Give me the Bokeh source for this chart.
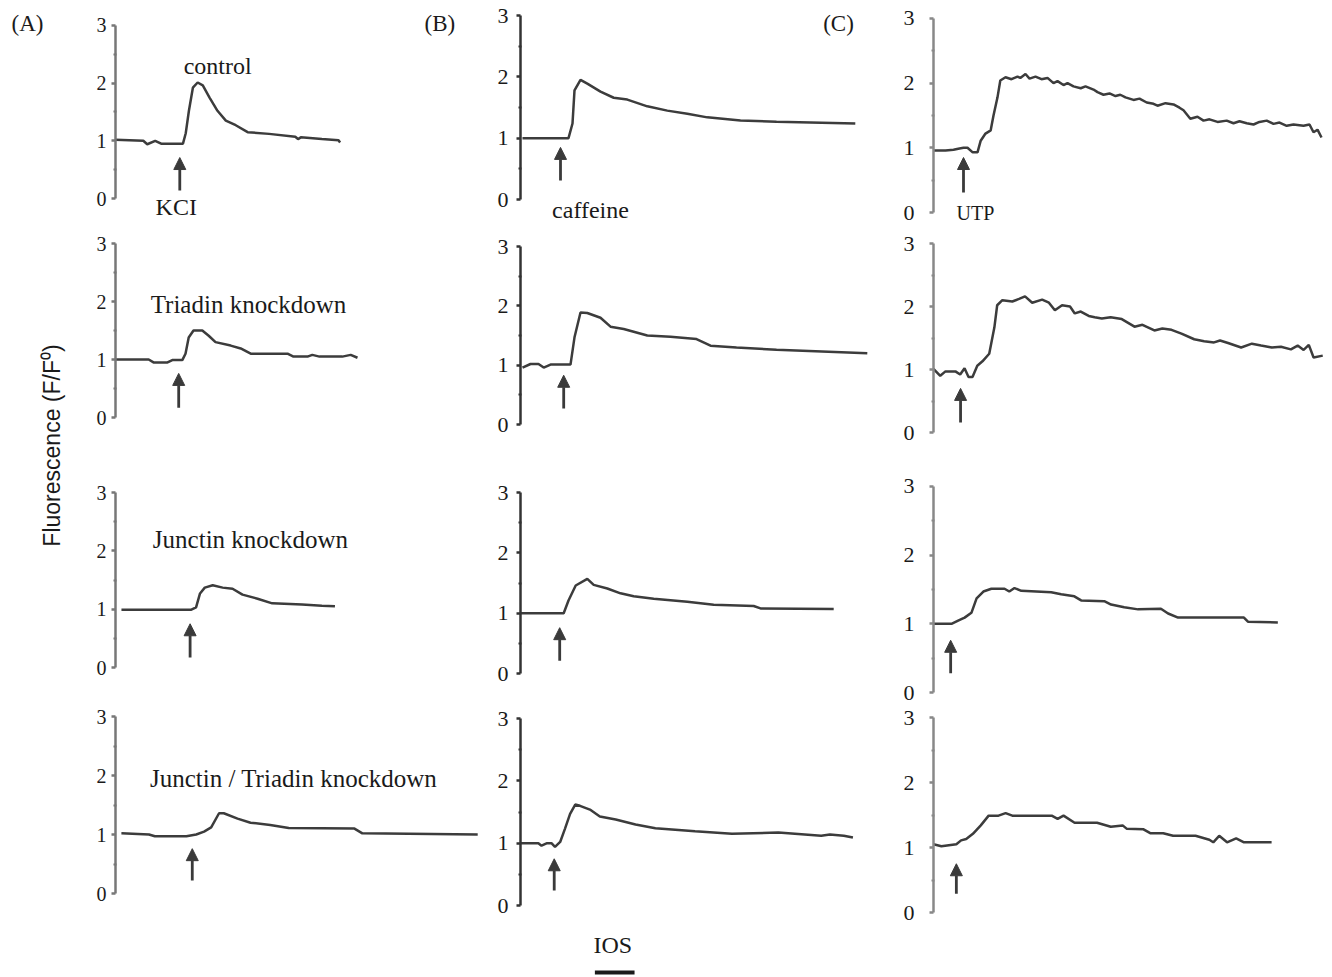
from bokeh.plotting import figure
from bokeh.layouts import row, column
from bokeh.models import Range1d, FixedTicker, Label, Arrow, NormalHead
from bokeh.embed import file_html
from bokeh.resources import INLINE
import math

# ---------------- data: (time s, F/F0) ----------------
a1 = [(0, 1.02), (7, 1.0), (8, 0.94), (10, 1.0), (11.5, 0.95), (17, 0.95), (17.7, 1.13), (18.5, 1.52),
      (19.5, 1.92), (20.7, 2.01), (22, 1.96), (23.7, 1.75), (25.7, 1.52), (27.8, 1.35), (30.3, 1.27),
      (33.3, 1.15), (38.7, 1.12), (45.3, 1.07), (46, 1.03), (46.7, 1.06), (52, 1.03), (56.2, 1.01), (56.6, 0.97)]
a2 = [(0, 1.0), (8.3, 1.0), (9.5, 0.95), (13, 0.95), (14.2, 0.99), (16.7, 0.99), (17.5, 1.10), (18.3, 1.38),
      (19.5, 1.50), (21.7, 1.50), (23.3, 1.41), (25, 1.30), (28.8, 1.24), (31.3, 1.19), (33.8, 1.10),
      (43, 1.10), (44.5, 1.05), (48, 1.05), (49.2, 1.08), (51, 1.05), (56.7, 1.05), (58.8, 1.08), (60.5, 1.03)]
a3 = [(1.5, 0.99), (19, 0.99), (20.3, 1.03), (21.3, 1.27), (22.5, 1.37), (24.5, 1.41), (27, 1.37),
      (29.5, 1.35), (32, 1.25), (35.8, 1.18), (39.5, 1.10), (47, 1.08), (52, 1.06), (55.3, 1.05)]
a4 = [(1.5, 1.02), (8.5, 1.0), (10, 0.97), (18, 0.97), (20.5, 1.0), (22.5, 1.05), (24.3, 1.12), (26.3, 1.36),
      (27.5, 1.36), (31, 1.27), (34.3, 1.20), (39.3, 1.16), (44, 1.11), (60.7, 1.10), (62.7, 1.02), (92, 1.0)]

b1 = [(0.5, 1.0), (12, 1.0), (13, 1.24), (13.5, 1.78), (15, 1.95), (16.7, 1.89), (20, 1.76), (23.3, 1.66),
      (26.7, 1.63), (31.7, 1.52), (36.7, 1.45), (41.7, 1.40), (46.7, 1.34), (55, 1.29), (64, 1.27), (83.7, 1.24)]
b2 = [(0.5, 0.96), (2.5, 1.02), (4.5, 1.02), (5.8, 0.96), (7.5, 1.01), (12.5, 1.01), (13.5, 1.47), (15, 1.89),
      (16.7, 1.88), (20, 1.80), (22.5, 1.65), (25.8, 1.61), (31.7, 1.50), (37.5, 1.48), (44, 1.44),
      (47.5, 1.33), (54, 1.30), (64, 1.26), (86.7, 1.20)]
b3 = [(0, 1.0), (10.8, 1.0), (12, 1.21), (13.8, 1.46), (16.7, 1.57), (18.3, 1.47), (21.7, 1.41), (25, 1.33),
      (28.3, 1.28), (33.3, 1.24), (41.7, 1.19), (48.3, 1.14), (58.3, 1.12), (60, 1.08), (78.3, 1.07)]
b4 = [(0, 1.0), (4.5, 1.0), (5.3, 0.96), (6.7, 1.0), (7.8, 1.0), (8.7, 0.94), (10, 1.02), (11.2, 1.23),
      (12.5, 1.47), (13.8, 1.62), (15, 1.60), (17.5, 1.54), (20, 1.43), (24, 1.38), (29, 1.30), (34, 1.24),
      (44, 1.19), (53.3, 1.15), (65, 1.17), (75.8, 1.12), (78, 1.14), (81.5, 1.12), (83.8, 1.09)]

c1 = [(0, 0.96), (3, 0.96), (5, 0.97), (6.5, 0.99), (7.5, 1.0), (8.5, 1.0), (9.8, 0.93), (11, 0.93),
      (11.8, 1.11), (13, 1.22), (14.3, 1.27), (15, 1.50), (16, 1.78), (16.7, 2.04), (18, 2.09), (19.5, 2.06),
      (21, 2.10), (21.7, 2.08), (23, 2.14), (24, 2.07), (25.5, 2.10), (27, 2.06), (28.5, 2.08), (30, 2.00),
      (31, 2.03), (32.5, 1.97), (33.5, 2.00), (35, 1.95), (36.8, 1.92), (38, 1.95), (40, 1.90), (41, 1.86),
      (42.5, 1.82), (44, 1.84), (45.5, 1.80), (46.7, 1.82), (48, 1.78), (50, 1.74), (51.5, 1.76), (53.3, 1.70),
      (55, 1.68), (56, 1.65), (58, 1.69), (60, 1.67), (61.5, 1.62), (62.5, 1.58), (64.2, 1.45), (66, 1.48),
      (67.5, 1.42), (69, 1.44), (71, 1.40), (73.3, 1.42), (75, 1.38), (76.5, 1.41), (78.3, 1.38), (80, 1.36),
      (81.5, 1.40), (83.3, 1.42), (85, 1.37), (86.5, 1.39), (88.3, 1.34), (90, 1.36), (92.5, 1.34),
      (94, 1.36), (95, 1.24), (96, 1.28), (97, 1.16)]
c2 = [(0, 1.01), (1.7, 0.90), (3, 0.97), (5.5, 0.97), (6.7, 0.92), (7.8, 1.02), (8.8, 0.88), (9.8, 0.88),
      (11, 1.06), (12.3, 1.13), (14, 1.25), (15.3, 1.67), (16, 2.02), (17.3, 2.10), (19.8, 2.08), (21.5, 2.12),
      (23, 2.16), (24.8, 2.06), (27.3, 2.11), (29, 2.06), (30.5, 1.94), (32.3, 2.02), (34.3, 2.00),
      (35.5, 1.89), (37, 1.92), (39, 1.85), (40.5, 1.83), (42.3, 1.81), (44.5, 1.83), (47.3, 1.80),
      (50.5, 1.68), (52.5, 1.71), (55.5, 1.62), (57.5, 1.65), (59.8, 1.63), (62.3, 1.57), (65.5, 1.48),
      (68, 1.45), (70.5, 1.43), (72, 1.46), (74, 1.42), (77.3, 1.35), (80, 1.41), (82.3, 1.38), (85, 1.35),
      (87.3, 1.36), (89.8, 1.32), (91.5, 1.38), (93, 1.31), (94.3, 1.39), (95.5, 1.19), (97.8, 1.22)]
c3 = [(0, 1.0), (4.5, 1.0), (6.3, 1.05), (7.8, 1.09), (9.5, 1.16), (10.8, 1.37), (12.5, 1.47), (14.5, 1.51),
      (17.8, 1.51), (19, 1.47), (20.3, 1.52), (22, 1.48), (29.5, 1.46), (32, 1.43), (35.3, 1.40), (37, 1.34),
      (42.8, 1.33), (44.5, 1.28), (47.8, 1.24), (51.3, 1.21), (57, 1.22), (58.8, 1.15), (61.3, 1.09),
      (65.3, 1.09), (77.8, 1.09), (78.8, 1.03), (86.3, 1.02)]
c4 = [(0, 1.05), (2, 1.02), (5.8, 1.05), (7, 1.11), (8.3, 1.13), (10, 1.21), (12, 1.34), (14, 1.49),
      (16.5, 1.49), (18.3, 1.53), (20, 1.49), (30, 1.49), (31.5, 1.44), (33, 1.49), (35.8, 1.38), (41.5, 1.38),
      (45, 1.32), (48, 1.34), (49, 1.29), (53.3, 1.28), (55, 1.22), (58.3, 1.22), (60.8, 1.18), (66.5, 1.18),
      (70, 1.12), (71, 1.08), (72.5, 1.18), (74.5, 1.08), (76.8, 1.14), (78.8, 1.08), (85.8, 1.08)]

# stimulus arrows: (time, tail value, head value)
stim_a = [(16.2, 0.14, 0.71), (15.8, 0.17, 0.76), (18.8, 0.17, 0.75), (19.5, 0.22, 0.76)]
stim_b = [(10.0, 0.31, 0.85), (10.8, 0.27, 0.83), (9.8, 0.21, 0.76), (8.5, 0.24, 0.75)]
stim_c = [(7.5, 0.31, 0.85), (6.8, 0.16, 0.70), (4.3, 0.28, 0.76), (5.8, 0.29, 0.75)]

y_ticks = [0, 1, 2, 3]
y_minor = [0.5, 1.5, 2.5]
scale_bar_s = 10  # "IOS" bar length (s)

# ---------------- layout geometry (page pixels) ----------------
PX_PER_S = 4.0
SERIF = "Liberation Serif"
TEXT_LIFT = 7  # px


def panel(trace, stim, left, right, top, bottom, axis_x, y0, ppu, axis_color, tick_font, standoff):
    width = right - left
    height = bottom - top
    mbl = axis_x - left
    fw = width - mbl
    p = figure(width=width, height=height, output_backend="svg", toolbar_location=None,
               x_range=Range1d(0, fw / PX_PER_S),
               y_range=Range1d((y0 - bottom) / ppu, (y0 - top) / ppu),
               min_border_left=mbl, min_border_right=0, min_border_top=0, min_border_bottom=0,
               x_axis_location=None)
    p.outline_line_color = None
    p.xgrid.visible = False
    p.ygrid.visible = False
    p.background_fill_color = "white"
    p.border_fill_color = "white"
    ax = p.yaxis[0]
    ax.ticker = FixedTicker(ticks=y_ticks, minor_ticks=y_minor)
    ax.bounds = (0, 3)
    ax.axis_line_color = axis_color
    ax.axis_line_width = 2.5
    ax.major_tick_line_color = axis_color
    ax.major_tick_line_width = 2.5
    ax.major_tick_out = 4
    ax.major_tick_in = 0
    ax.minor_tick_line_color = axis_color
    ax.minor_tick_line_width = 2
    ax.minor_tick_out = 2
    ax.minor_tick_in = 1
    ax.major_label_text_font = SERIF
    ax.major_label_text_font_size = tick_font
    ax.major_label_text_color = "#1a1a1a"
    ax.major_label_standoff = standoff
    t = [pt[0] for pt in trace]
    v = [pt[1] for pt in trace]
    p.line(t, v, line_color="#3c3c3c", line_width=2.5)
    st, lo, hi = stim
    p.add_layout(Arrow(end=NormalHead(size=12, fill_color="#3a3a3a", line_color="#3a3a3a"),
                       x_start=st, y_start=lo, x_end=st, y_end=hi,
                       line_color="#3a3a3a", line_width=2.8))
    p.tags = [ppu]
    return p


def lab(p, text, t, v, size, font=SERIF):
    ppu = p.tags[0]
    p.add_layout(Label(x=t, y=v + TEXT_LIFT / ppu, text=text, text_font=font, text_font_size=size,
                       text_align="center", text_baseline="alphabetic", text_color="#1a1a1a"))


BOTTOM = 975

# column A
A_left, A_right = 68, 490
A_rows = [(0, 228, 112, 198, 57.7), (228, 470, 115, 417, 58.0), (470, 692, 112, 667, 58.3),
          (692, BOTTOM, 109, 893, 59.0)]
A_traces = [a1, a2, a3, a4]
colA = []
for (top, bot, ax_x, y0, ppu), tr, st in zip(A_rows, A_traces, stim_a):
    colA.append(panel(tr, st, A_left, A_right, top, bot, ax_x, y0, ppu, "#777777", "20px", 5))

# column B
B_left, B_right = 490, 880
B_rows = [(0, 232, 520, 199, 61.3), (232, 470, 520, 424, 59.3), (470, 700, 520, 673, 60.3),
          (700, BOTTOM, 517, 905, 62.3)]
B_traces = [b1, b2, b3, b4]
colB = []
for (top, bot, ax_x, y0, ppu), tr, st in zip(B_rows, B_traces, stim_b):
    colB.append(panel(tr, st, B_left, B_right, top, bot, ax_x, y0, ppu, "#333333", "22px", 8))

# column C
C_left, C_right = 880, 1330
C_rows = [(0, 232, 933, 212, 64.7), (232, 470, 931, 432, 63.0), (470, 704, 932, 692, 68.7),
          (704, BOTTOM, 927, 912, 65.0)]
C_traces = [c1, c2, c3, c4]
colC = []
for (top, bot, ax_x, y0, ppu), tr, st in zip(C_rows, C_traces, stim_c):
    colC.append(panel(tr, st, C_left, C_right, top, bot, ax_x, y0, ppu, "#888888", "22px", 15))

# texts
lab(colA[0], "control", 25.75, 2.17, "24px")
lab(colA[0], "KCI", 15.3, -0.26, "24px")
lab(colA[0], "(B)", 81.75, 2.91, "23px")
lab(colA[1], "Triadin knockdown", 33.25, 1.83, "25px")
lab(colA[2], "Junctin knockdown", 34.0, 2.08, "25px")
lab(colA[3], "Junctin / Triadin knockdown", 45.25, 1.83, "25px")
lab(colB[0], "caffeine", 17.5, -0.28, "24px")
lab(colB[0], "(C)", 79.5, 2.76, "23px")
lab(colC[0], "UTP", 10.5, -0.12, "20px")
lab(colB[3], "IOS", 23.25, -0.75, "24px")
colB[3].line([18.75, 18.75 + scale_bar_s], [-1.075, -1.075], line_color="#1a1a1a", line_width=4)

# left strip with panel letter and y-axis title
strip = figure(width=A_left, height=BOTTOM, output_backend="svg", toolbar_location=None,
               x_range=Range1d(0, A_left), y_range=Range1d(BOTTOM, 0),
               min_border=0, x_axis_location=None, y_axis_location=None)
strip.outline_line_color = None
strip.xgrid.visible = False
strip.ygrid.visible = False
strip.add_layout(Label(x=27, y=30 - TEXT_LIFT, text="(A)", text_font=SERIF, text_font_size="23px",
                       text_align="center", text_baseline="alphabetic", text_color="#1a1a1a"))
strip.add_layout(Label(x=51, y=445, text="Fluorescence (F/F\u2070)", text_font="Liberation Sans",
                       text_font_size="23px", text_align="center", text_baseline="middle",
                       angle=math.pi / 2, text_color="#1a1a1a"))

layout = row(strip, column(*colA, spacing=0), column(*colB, spacing=0), column(*colC, spacing=0), spacing=0)

open("out.html", "w").write(file_html(layout, INLINE))
